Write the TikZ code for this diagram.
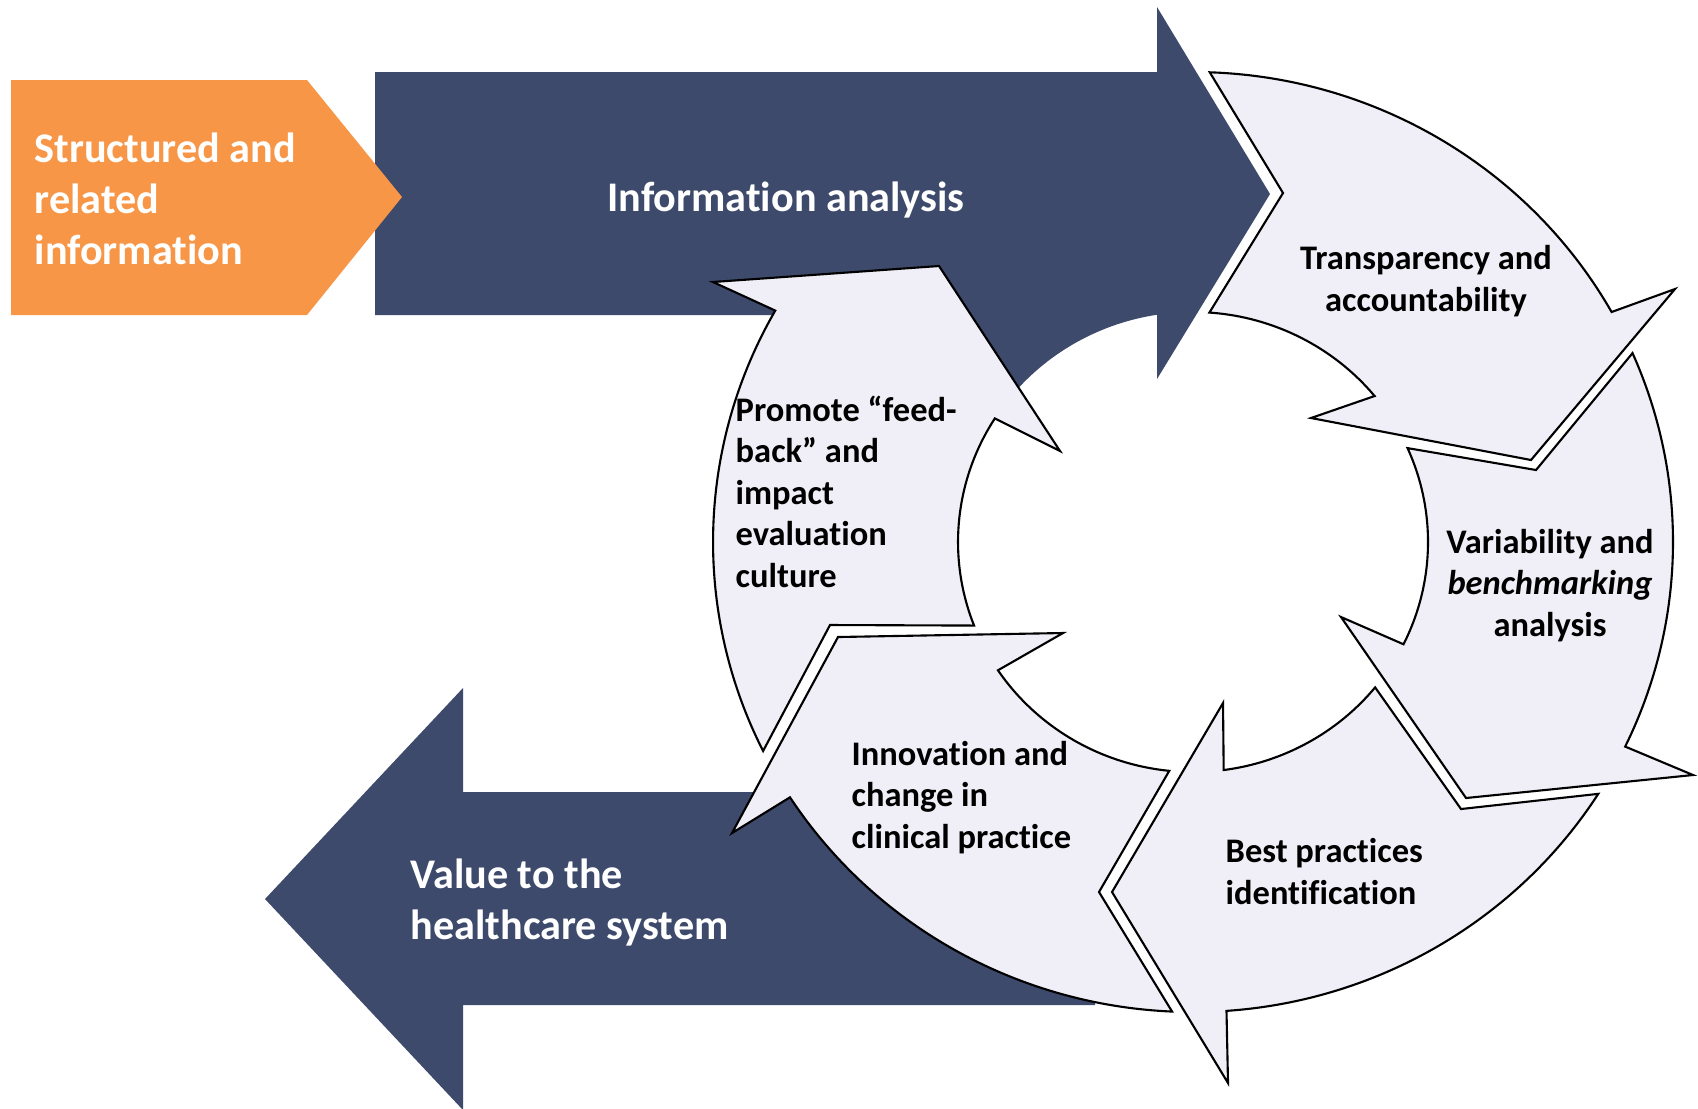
\documentclass[tikz,border=0pt]{standalone}
\usepackage{fontspec}
\setmainfont{Carlito}[Ligatures={TeX,NoCommon}]
\usetikzlibrary{calc}
\definecolor{navy}{RGB}{61,74,107}
\definecolor{amber}{RGB}{247,150,70}
\definecolor{lilac}{RGB}{240,238,246}
\tikzset{
  bigarrow/.style={fill=navy},
  tagarrow/.style={fill=amber},
  ringarrow/.style={
    fill=lilac,
    draw=black,
    line width=0.6pt
  },
  boxtext/.style={
    text=white,
    font=\fontsize{12}{14.5}\selectfont\bfseries,
    inner sep=0pt,
    align=left
  },
  ringtext/.style={
    text=black,
    font=\fontsize{9.8}{11.8}\selectfont\bfseries,
    inner sep=0pt
  }
}

\begin{document}
\begin{tikzpicture}[x=0.01cm, y=0.01cm]
  \useasboundingbox (0,0) rectangle (1698,-1108);
  \coordinate (c) at (1193,-542);
  \fill[bigarrow] (375,-72) -- (1157,-72) -- (1157,-7) -- (1270,-194) -- (1157,-379) -- ($(c)+(98.8:235 and 230)$) arc[start angle=98.8, end angle=140, x radius=235, y radius=230] -- (850,-315) -- (375,-315) -- cycle;
  \fill[tagarrow] (11,-80) -- (307,-80) -- (402,-197) -- (307,-315) -- (11,-315) -- cycle;
  \fill[bigarrow] (1095,-792) -- (463,-792) -- (463,-688) -- (265,-899) -- (463,-1110) -- (463,-1005) -- (1095,-1005) -- cycle;

  \draw[ringarrow] ($(c)+(88:480 and 470)$) -- (1283,-193) -- ($(c)+(86:235 and 230)$) arc[start angle=86, end angle=39.4, x radius=235, y radius=230] -- (1311,-418) -- (1531,-460) -- (1675,-289) -- ($(c)+(29.3:480 and 470)$) arc[start angle=29.3, end angle=88, x radius=480, y radius=470] -- cycle;
  \draw[ringarrow] ($(c)+(23.7:480 and 470)$) -- (1536,-470) -- ($(c)+(24.1:235 and 230)$) arc[start angle=24.1, end angle=-26.4, x radius=235, y radius=230] -- (1341,-617) -- (1466,-798) -- (1693,-775) -- ($(c)+(-25.8:480 and 470)$) arc[start angle=-25.8, end angle=23.7, x radius=480, y radius=470] -- cycle;
  \draw[ringarrow] ($(c)+(-32.4:480 and 470)$) -- (1461,-809) -- ($(c)+(-39.2:235 and 230)$) arc[start angle=-39.2, end angle=-82.5, x radius=235, y radius=230] -- (1223,-703) -- (1112,-892) -- (1228,-1083) -- ($(c)+(-86:480 and 470)$) arc[start angle=-86, end angle=-32.4, x radius=480, y radius=470] -- cycle;
  \draw[ringarrow] ($(c)+(267.5:480 and 470)$) -- (1099,-892) -- ($(c)+(264.2:235 and 230)$) arc[start angle=264.2, end angle=213.9, x radius=235, y radius=230] -- (1063,-633) -- (838,-637) -- (732,-833) -- ($(c)+(212.9:480 and 470)$) arc[start angle=212.9, end angle=267.5, x radius=480, y radius=470] -- cycle;
  \draw[ringarrow] ($(c)+(206.4:480 and 470)$) -- (830,-625) -- ($(c)+(201.3:235 and 230)$) arc[start angle=201.3, end angle=147.5, x radius=235, y radius=230] -- (1060,-451) -- (939,-266) -- (713,-282) -- ($(c)+(150.5:480 and 470)$) arc[start angle=150.5, end angle=206.4, x radius=480, y radius=470] -- cycle;

  \node[boxtext, anchor=base west] (source) at (34,-264) {Structured and\\related\\information};
  \node[boxtext, anchor=base] (analysis) at (786,-211) {Information analysis};
  \node[boxtext, anchor=base west] (value) at (410,-939) {Value to the\\healthcare system};
  \node[ringtext, anchor=base, align=center] (transparency) at (1426,-311) {Transparency and\\accountability};
  \node[ringtext, anchor=base, align=center] (variability) at (1550,-636) {Variability and\\\textit{benchmarking}\\analysis};
  \node[ringtext, anchor=base west, align=left] (bestpractice) at (1225,-904) {Best practices\\identification};
  \node[ringtext, anchor=base west, align=left] (innovation) at (851,-848) {Innovation and\\change in\\clinical practice};
  \node[ringtext, anchor=base west, align=left] (feedback) at (735,-587) {Promote “feed-\\back” and\\impact\\evaluation\\culture};
\end{tikzpicture}
\end{document}
